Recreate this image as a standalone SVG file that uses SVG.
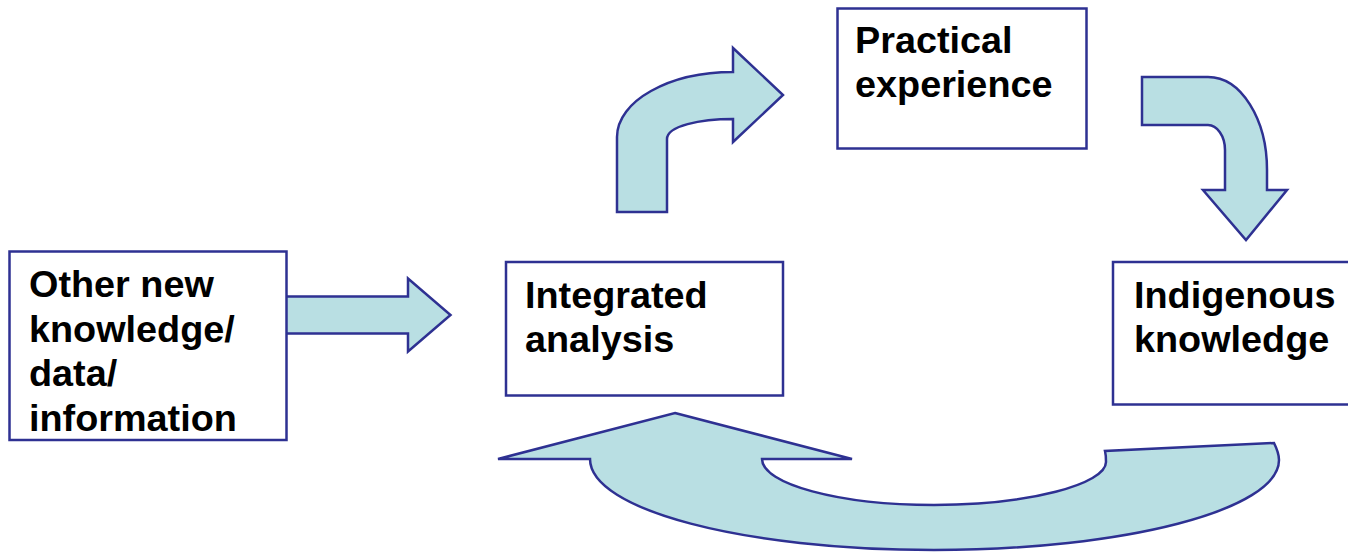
<svg xmlns="http://www.w3.org/2000/svg" width="1348" height="553" viewBox="0 0 1348 553">
<style>
.box{fill:#ffffff;stroke:#2e3192;stroke-width:2.5}
.arr{fill:#b9dfe3;stroke:#2e3192;stroke-width:2.5;stroke-linejoin:miter}
.t{font-family:"Liberation Sans",Arial,Helvetica,sans-serif;font-weight:bold;font-size:36px;fill:#000000}
</style>
<rect width="1348" height="553" fill="#ffffff"/>
<g id="connectors">
<path class="arr" d="M287,296.5 L408,296.5 L408,278.5 L450.5,315 L408,351.5 L408,333.5 L287,333.5"/>
<path class="arr" d="M617,212 L617,137 C617,101 669,72 733,72 L733,48 L783,95 L733,142 L733,119 C700,119 667,126 667,139 L667,212 Z"/>
<path class="arr" d="M1142,77 L1208,77 C1241,77 1267,119 1267,170 L1267,190 L1287,190 L1246,240 L1203,190 L1225,190 L1225,150 C1225,136 1217,125 1208,125 L1142,125 Z"/>
<path class="arr" d="M675,413 L852,459 L762,459 C762,484 839,505 934,505 C1029,505 1106,484 1106,462 C1106,458 1106,455 1105,451 L1274,443 C1277,449 1279,454 1279,460 C1279,510 1124,550 934,550 C744,550 590,510 590,459 L498,459 Z"/>
</g>
<g id="node-other">
<rect class="box" x="9.5" y="251.5" width="277" height="188.5"/>
<text class="t" transform="matrix(1.05 0 0 1 29 297)">Other new</text>
<text class="t" transform="matrix(1.05 0 0 1 29 341.5)">knowledge/</text>
<text class="t" transform="matrix(1.05 0 0 1 29 386)">data/</text>
<text class="t" transform="matrix(1.05 0 0 1 29 431)">information</text>
</g>
<g id="node-integrated">
<rect class="box" x="506" y="262" width="277" height="133.5"/>
<text class="t" transform="matrix(1.05 0 0 1 525 307.5)">Integrated</text>
<text class="t" transform="matrix(1.05 0 0 1 525 352)">analysis</text>
</g>
<g id="node-practical">
<rect class="box" x="837.5" y="8.5" width="249" height="140"/>
<text class="t" transform="matrix(1.05 0 0 1 855 52.5)">Practical</text>
<text class="t" transform="matrix(1.05 0 0 1 855 96.5)">experience</text>
</g>
<g id="node-indigenous">
<rect class="box" x="1113" y="262" width="260" height="142.5"/>
<text class="t" transform="matrix(1.05 0 0 1 1134 308)">Indigenous</text>
<text class="t" transform="matrix(1.05 0 0 1 1134 352)">knowledge</text>
</g>
</svg>
